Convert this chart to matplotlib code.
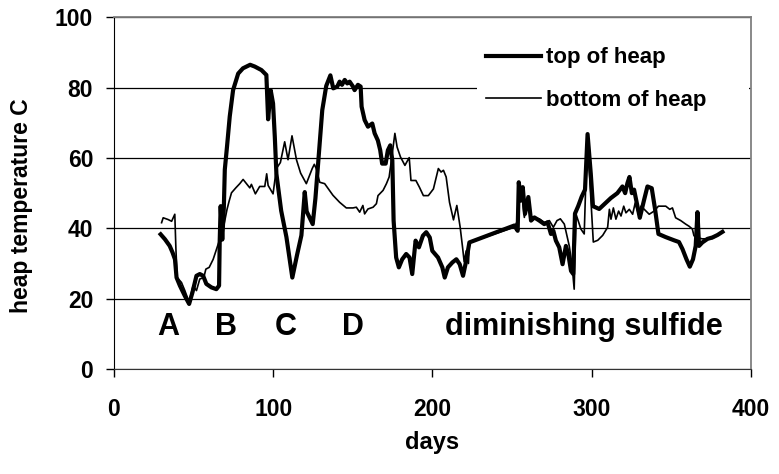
import matplotlib
matplotlib.use("Agg")
import matplotlib.pyplot as plt

plt.rcParams['font.family'] = ['Liberation Sans', 'DejaVu Sans']
plt.rcParams['font.weight'] = 'bold'

# top of heap (thick line)
top_days = [29.3, 32, 35, 36.8, 38.3, 39.3, 41.4, 44.5, 47.2, 49.3, 51.8, 53.9, 56, 58, 61.2,
            64.3, 66, 66.4, 67, 68, 69, 69.6, 71, 72.7, 74.8, 78, 81, 85.5, 88.4, 92.6,
            95.7, 96.8, 98.4, 99.9, 101, 102, 105, 108.3, 112, 115, 117.7, 119.8, 121, 124.8,
            126.5, 128.5, 130.8, 133.3, 135.9, 137.7, 140.2, 141.7, 143.2, 144.9, 146.5, 148,
            150.1, 151.1, 153.2, 154.9, 155.5, 157.4, 159.5, 162.2, 163.7, 165.7, 167.2, 168.4,
            170.6, 172, 173.5, 174.8, 175.6, 177.2, 178.9, 181, 183.5, 185.6, 187.3, 189.4,
            191.5, 194, 196.1, 198.3, 199.9, 203.5, 206.2, 207.7, 209.7, 212.5, 215, 217.1,
            219.2, 221.2, 223.2, 251.4, 253.5, 254.2, 255.6, 256.7, 258.1, 260.2, 261.9, 264,
            267.1, 270.2, 272.3, 274.4, 275.9, 277.5, 279.6, 281.7, 283.8, 285.3, 287, 288.4,
            289.5, 291.5, 293.7, 295.8, 297.4, 299.4, 300.8, 304.7, 307.8, 312, 316.1, 319.3,
            321, 322.4, 323.7, 325.2, 326.6, 328.7, 330.2, 332.9, 335, 337.7, 339.8, 341.9,
            346.5, 351.7, 354.8, 357, 359.5, 361.6, 363.6, 365.3, 366.4, 367.4, 369.5, 372.7,
            375.8, 379, 382.1]
top_temp = [38.3, 36.9, 35, 33.1, 31.2, 26, 23.7, 20.8, 18.5, 21.8, 26.5, 27, 26.5, 24.2, 23.2,
            22.7, 23.7, 36.4, 46.3, 36.8, 46, 56.7, 63.3, 71.8, 79.3, 84, 85.5, 86.5, 86, 85,
            83.6, 71, 79.3, 75.5, 66, 55.5, 45, 37.5, 26, 32.5, 38, 50.3, 44.8, 41.2,
            48.5, 60, 73.6, 80.5, 83.5, 79.8, 80.3, 81.7, 80.8, 82.2, 81.2, 81.7,
            80.3, 79.3, 80.8, 80.3, 74.6, 70.8, 68.9, 69.8, 67, 65, 62.2, 58.4,
            58.4, 62.2, 63.6, 59.3, 42.2, 31.7, 28.9, 31.2, 32.7, 31.7, 27, 36.5,
            34.6, 37.9, 38.9, 37.4, 33.6, 31.7, 28.9, 26, 28.9, 30.3, 31.2, 29.8,
            26.5, 30.8, 36, 40.8, 39.3, 53.1, 47.9, 51.7, 44.1, 48.9, 42.2, 43.1,
            42.2, 41.2, 41.7, 38.4, 39.3, 36.5, 34.6, 29.8, 35, 32.7, 27.9, 27,
            44.2, 46.3, 49, 51, 66.8, 55.6, 46.3, 45.5, 46.8, 48.6, 50, 51.9,
            50, 52.8, 54.6, 50, 51, 46.3, 43, 48.1, 51.9, 51.4, 45.4, 38.4,
            37.5, 36.6, 36.1, 34.1, 31.2, 29.1, 31.2, 35, 44.6, 35, 36, 37,
            37.4, 38.1, 39]

# bottom of heap (thin line)
bot_days = [29.9, 30.9, 34, 36.2, 38.2, 38.9, 39.7, 42.4, 44.5, 47.2, 49.7, 51.8, 53.9, 56.4,
            57.7, 59.8, 62.3, 64.4, 66.5, 68.5, 71, 72.3, 73.8, 76.5, 79, 81.1, 83.6, 85.3,
            86.3, 88.8, 91.5, 94.7, 95.9, 96.8, 99.9, 102, 104.5, 107.2, 109.3, 111.8, 114.6,
            117.2, 120.8, 124.5, 125.8, 127, 129.2, 132.3, 137.5, 141.7, 145.9, 150.1, 152.2,
            154.3, 156.3, 157.4, 159.5, 162.7, 164.8, 165.8, 169, 171.1, 172.8, 174.2, 176.4,
            177.8, 179.9, 182.7, 185.4, 186.5, 189.6, 191.8, 194.3, 197.4, 200.6, 203.7, 205.4,
            206.9, 208.6, 210.7, 213.2, 215.3, 217.4, 218.9, 219.9, 221.2, 222.6, 223.2, 251.4,
            253.5, 254.6, 256, 257.7, 259.8, 261.9, 262.9, 267.1, 270.2, 273.4, 275.9, 278.2,
            280.3, 282.8, 284.2, 285.9, 287.6, 289, 290.1, 293.2, 295.3, 297.2, 301, 303.8,
            306.9, 310, 311.1, 312.1, 313.6, 315.2, 316.9, 318.4, 320.1, 321.5, 323.6, 325.7,
            327.3, 329.4, 330.9, 333, 336.1, 339.2, 341.9, 346.5, 349, 350.7, 352.7, 355.9,
            359, 361.1, 363.2, 364.2, 365.7, 369.5, 375.8, 380]
bot_temp = [41.6, 43, 42.5, 42, 44, 34.1, 26, 24.6, 22.3, 19, 23.7, 22.3, 25.6, 26,
            28.4, 28.9, 31.2, 34.1, 36.9, 39.7, 45.4, 47.7, 50.1, 51.5, 52.7, 53.9, 52.5, 51.5,
            52.5, 49.8, 51.9, 51.9, 55.5, 52.2, 49.8, 57, 58.7, 64.6, 59.5, 66.3, 59.5,
            55.7, 52.7, 57, 58.2, 57, 53.1, 52.7, 49.4, 47.4, 45.8, 45.8, 46,
            44.6, 46.5, 44.1, 45.5, 46, 47, 49.3, 50.8, 52.7, 54.6, 59.3, 67,
            63.1, 60.3, 57.9, 60.1, 53.6, 53.6, 51.7, 49.3, 49.3, 51.2, 57, 56,
            56.5, 54.6, 47.4, 42.4, 46.5, 40.3, 34.6, 30.5, 33.6, 30, 36, 40.3,
            42.2, 51.7, 50.3, 43.1, 48.9, 42.7, 43.1, 42.7, 41.7, 42.2, 40.3, 42.2,
            42.7, 41.2, 38.4, 35, 29.8, 22.7, 44.1, 39.8, 38.4, 66.5, 36.1, 36.6,
            38, 40.3, 45.4, 42.6, 45.8, 42.6, 44.9, 43.5, 46.3, 44.4, 45.4, 44,
            47.2, 44, 46.3, 45.4, 44, 44.9, 46.3, 46.3, 45.4, 45.8, 43, 42.2,
            41.2, 40.6, 39.8, 37.9, 37.4, 37, 37.1, 38.4]

phase_labels = ['A', 'B', 'C', 'D', 'diminishing sulfide']
phase_days = [34.2, 70.6, 107.6, 149.8, 295.3]

fig = plt.figure(figsize=(7.79, 4.74), dpi=100)
ax = fig.add_axes([0.1463, 0.2215, 0.8177, 0.742])

ax.plot(top_days, top_temp, color='black', lw=3.0, solid_joinstyle='round',
        label='top of heap', zorder=3)
ax.plot(bot_days, bot_temp, color='black', lw=1.2, solid_joinstyle='round',
        label='bottom of heap', zorder=3)

for lab, d in zip(phase_labels, phase_days):
    ax.text(d, 9.7, lab, ha='center', va='baseline', fontsize=22, fontweight='bold')

ax.set_xlim(0, 400)
ax.set_ylim(0, 100)
ax.set_xticks([0, 100, 200, 300, 400])
ax.set_yticks([0, 20, 40, 60, 80, 100])
ax.yaxis.grid(True, color='black', lw=0.9)
ax.set_axisbelow(True)

ax.tick_params(axis='x', direction='out', length=6, width=1, pad=15, labelsize=16.5)
ax.tick_params(axis='y', direction='out', length=6, width=1, pad=9, labelsize=16.5)
for t in ax.get_xticklabels() + ax.get_yticklabels():
    t.set_fontweight('bold')

for s in ['top', 'right']:
    ax.spines[s].set_color('#808080')
    ax.spines[s].set_linewidth(1.3)
ax.spines['left'].set_color('black')
ax.spines['bottom'].set_color('#333333')

ax.set_xlabel('days', fontsize=17, fontweight='bold')
ax.set_ylabel('heap temperature C', fontsize=16.5, fontweight='bold')
ax.xaxis.set_label_coords(0.5, -0.176)
ax.yaxis.set_label_coords(-0.127, 0.463)

leg = ax.legend(loc='upper left', bbox_to_anchor=(0.5705, 0.5, 0.4265, 0.44),
                mode='expand', fontsize=16, handlelength=2.48, handletextpad=0.23,
                labelspacing=0.98, borderpad=0.4, borderaxespad=0, frameon=True,
                fancybox=False, framealpha=1)
leg.get_frame().set_facecolor('white')
leg.get_frame().set_linewidth(0)
for t in leg.get_texts():
    t.set_fontweight('bold')

fig.savefig('out.png', dpi=100)
